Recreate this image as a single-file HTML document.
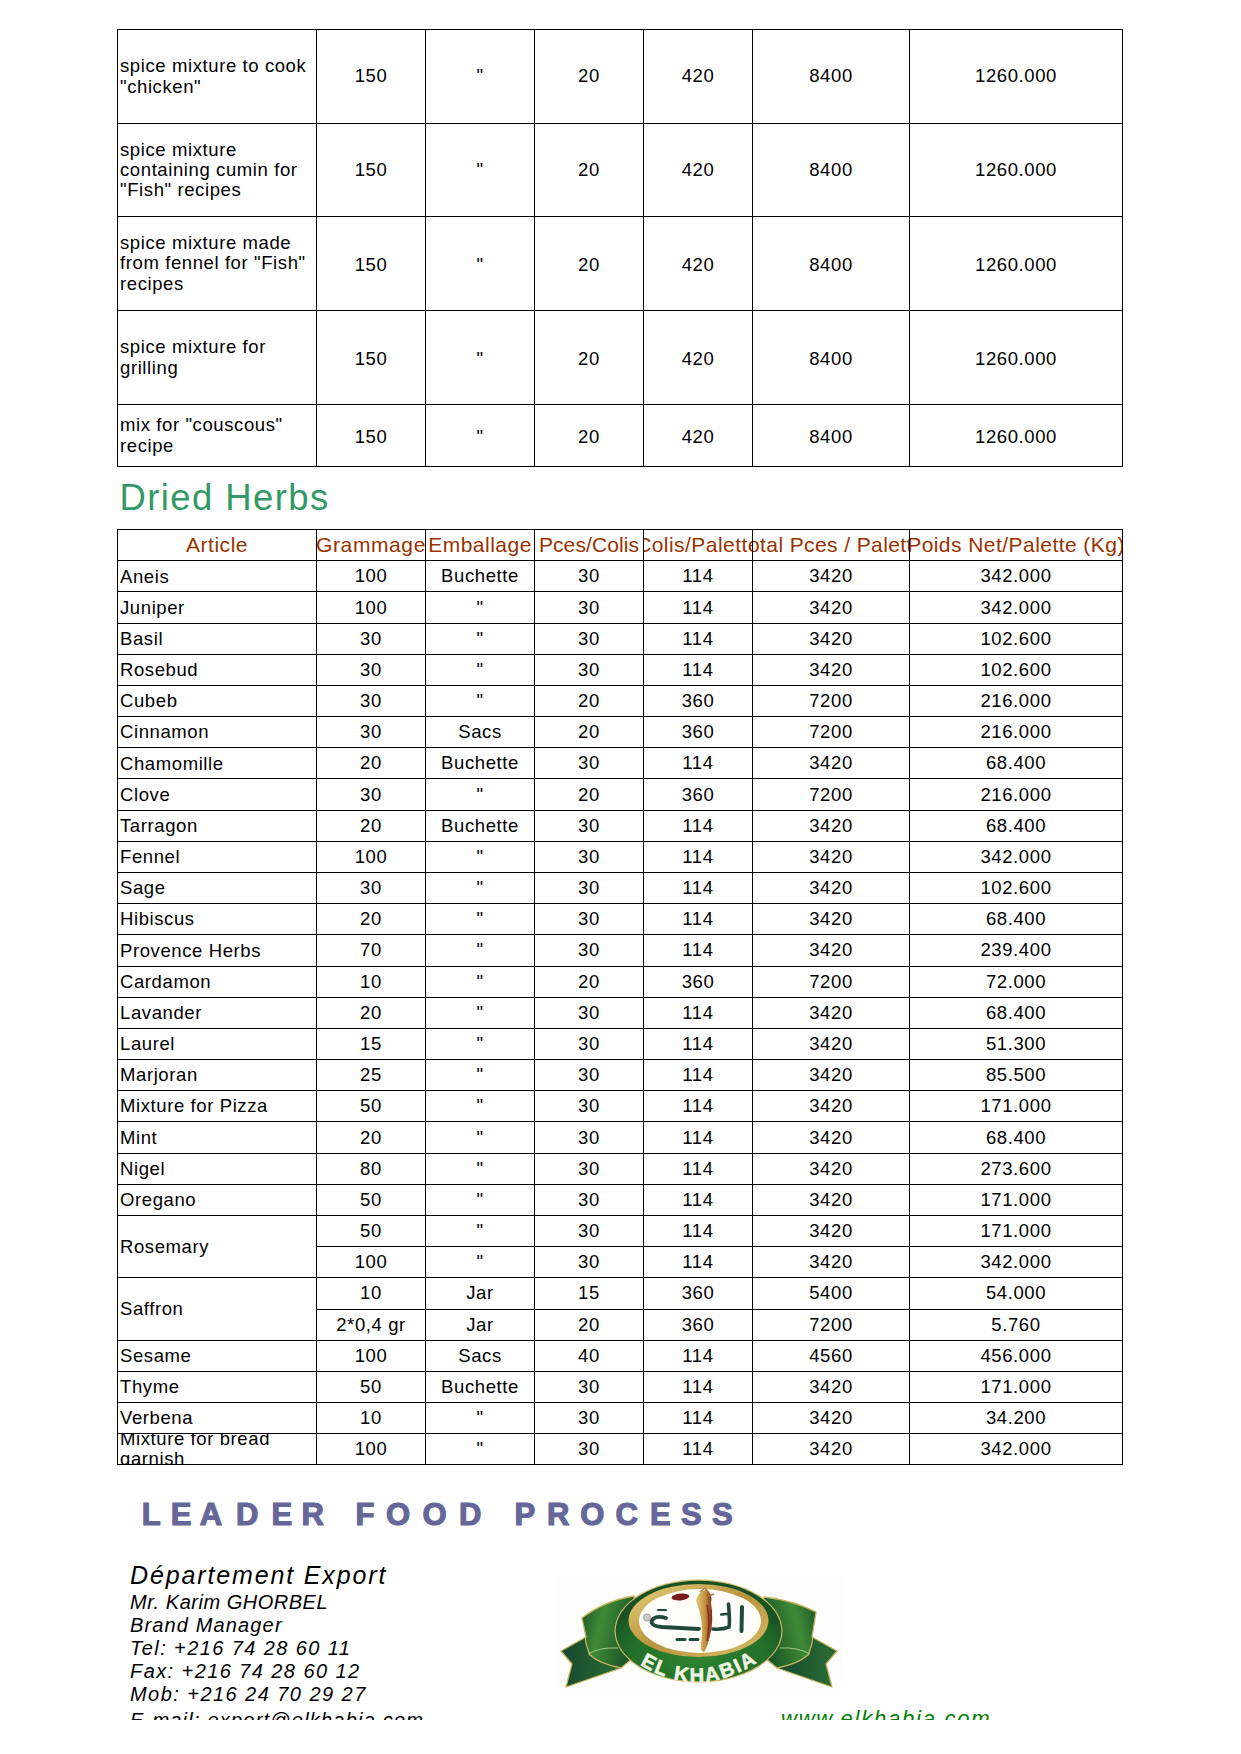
<!DOCTYPE html><html><head><meta charset="utf-8"><style>
*{margin:0;padding:0;box-sizing:border-box}
html,body{width:1241px;height:1754px;background:#fff;overflow:hidden}
body{position:relative;font-family:"Liberation Sans",sans-serif;color:#000}
.h{position:absolute;height:1px;background:#000}
.v{position:absolute;width:1px;background:#000}
.c{position:absolute;display:flex;align-items:center;justify-content:center;overflow:hidden;white-space:nowrap;font-size:18.5px;letter-spacing:0.6px;line-height:1}
.l{justify-content:flex-start;padding-left:2px;letter-spacing:0.6px;white-space:normal;line-height:20.3px}
.hd{color:#993300;font-size:21px;letter-spacing:0.25px}
</style></head><body><div class="c l" style="left:118px;top:30px;width:198px;height:93px">spice mixture to cook<br>"chicken"</div>
<div class="c " style="left:317px;top:30px;width:108px;height:93px">150</div>
<div class="c " style="left:426px;top:30px;width:108px;height:93px">"</div>
<div class="c " style="left:535px;top:30px;width:108px;height:93px">20</div>
<div class="c " style="left:644px;top:30px;width:108px;height:93px">420</div>
<div class="c " style="left:753px;top:30px;width:156px;height:93px">8400</div>
<div class="c " style="left:910px;top:30px;width:212px;height:93px">1260.000</div>
<div class="c l" style="left:118px;top:124px;width:198px;height:92px">spice mixture<br>containing cumin for<br>"Fish" recipes</div>
<div class="c " style="left:317px;top:124.7px;width:108px;height:92px">150</div>
<div class="c " style="left:426px;top:124.7px;width:108px;height:92px">"</div>
<div class="c " style="left:535px;top:124.7px;width:108px;height:92px">20</div>
<div class="c " style="left:644px;top:124.7px;width:108px;height:92px">420</div>
<div class="c " style="left:753px;top:124.7px;width:156px;height:92px">8400</div>
<div class="c " style="left:910px;top:124.7px;width:212px;height:92px">1260.000</div>
<div class="c l" style="left:118px;top:217px;width:198px;height:93px">spice mixture made<br>from fennel for "Fish"<br>recipes</div>
<div class="c " style="left:317px;top:218.7px;width:108px;height:93px">150</div>
<div class="c " style="left:426px;top:218.7px;width:108px;height:93px">"</div>
<div class="c " style="left:535px;top:218.7px;width:108px;height:93px">20</div>
<div class="c " style="left:644px;top:218.7px;width:108px;height:93px">420</div>
<div class="c " style="left:753px;top:218.7px;width:156px;height:93px">8400</div>
<div class="c " style="left:910px;top:218.7px;width:212px;height:93px">1260.000</div>
<div class="c l" style="left:118px;top:311px;width:198px;height:93px">spice mixture for<br>grilling</div>
<div class="c " style="left:317px;top:312.8px;width:108px;height:93px">150</div>
<div class="c " style="left:426px;top:312.8px;width:108px;height:93px">"</div>
<div class="c " style="left:535px;top:312.8px;width:108px;height:93px">20</div>
<div class="c " style="left:644px;top:312.8px;width:108px;height:93px">420</div>
<div class="c " style="left:753px;top:312.8px;width:156px;height:93px">8400</div>
<div class="c " style="left:910px;top:312.8px;width:212px;height:93px">1260.000</div>
<div class="c l" style="left:118px;top:405px;width:198px;height:61px">mix for "couscous"<br>recipe</div>
<div class="c " style="left:317px;top:406.6px;width:108px;height:61px">150</div>
<div class="c " style="left:426px;top:406.6px;width:108px;height:61px">"</div>
<div class="c " style="left:535px;top:406.6px;width:108px;height:61px">20</div>
<div class="c " style="left:644px;top:406.6px;width:108px;height:61px">420</div>
<div class="c " style="left:753px;top:406.6px;width:156px;height:61px">8400</div>
<div class="c " style="left:910px;top:406.6px;width:212px;height:61px">1260.000</div>
<div class="h" style="left:117px;top:29px;width:1006px"></div>
<div class="h" style="left:117px;top:123px;width:1006px"></div>
<div class="h" style="left:117px;top:216px;width:1006px"></div>
<div class="h" style="left:117px;top:310px;width:1006px"></div>
<div class="h" style="left:117px;top:404px;width:1006px"></div>
<div class="h" style="left:117px;top:466px;width:1006px"></div>
<div class="v" style="left:117px;top:29px;height:438px"></div>
<div class="v" style="left:316px;top:29px;height:438px"></div>
<div class="v" style="left:425px;top:29px;height:438px"></div>
<div class="v" style="left:534px;top:29px;height:438px"></div>
<div class="v" style="left:643px;top:29px;height:438px"></div>
<div class="v" style="left:752px;top:29px;height:438px"></div>
<div class="v" style="left:909px;top:29px;height:438px"></div>
<div class="v" style="left:1122px;top:29px;height:438px"></div>
<div style="position:absolute;left:119.5px;top:475.5px;font-size:36.5px;letter-spacing:1.4px;color:#339966;line-height:44px;white-space:nowrap">Dried Herbs</div>
<div class="c hd" style="left:118px;top:529px;width:198px;height:30px"><span style="letter-spacing:0.55px">Article</span></div>
<div class="c hd" style="left:317px;top:529px;width:108px;height:30px"><span style="letter-spacing:0.6px">Grammage</span></div>
<div class="c hd" style="left:426px;top:529px;width:108px;height:30px"><span style="letter-spacing:0.5px">Emballage</span></div>
<div class="c hd" style="left:535px;top:529px;width:108px;height:30px"><span style="letter-spacing:0.1px">Pces/Colis</span></div>
<div class="c hd" style="left:644px;top:529px;width:108px;height:30px"><span style="letter-spacing:0.45px">Colis/Palette</span></div>
<div class="c hd" style="left:753px;top:529px;width:156px;height:30px"><span style="letter-spacing:0.4px">Total Pces / Palette</span></div>
<div class="c hd" style="left:910px;top:529px;width:212px;height:30px"><span style="letter-spacing:0.45px">Poids Net/Palette (Kg)</span></div>
<div class="c l" style="left:118px;top:561.7px;width:198px;height:30px">Aneis</div>
<div class="c " style="left:317px;top:561.7px;width:108px;height:30px">100</div>
<div class="c " style="left:426px;top:561.7px;width:108px;height:30px">Buchette</div>
<div class="c " style="left:535px;top:561.7px;width:108px;height:30px">30</div>
<div class="c " style="left:644px;top:561.7px;width:108px;height:30px">114</div>
<div class="c " style="left:753px;top:561.7px;width:156px;height:30px">3420</div>
<div class="c " style="left:910px;top:561.7px;width:212px;height:30px">342.000</div>
<div class="c l" style="left:118px;top:592.37px;width:198px;height:31px">Juniper</div>
<div class="c " style="left:317px;top:592.37px;width:108px;height:31px">100</div>
<div class="c " style="left:426px;top:592.37px;width:108px;height:31px">"</div>
<div class="c " style="left:535px;top:592.37px;width:108px;height:31px">30</div>
<div class="c " style="left:644px;top:592.37px;width:108px;height:31px">114</div>
<div class="c " style="left:753px;top:592.37px;width:156px;height:31px">3420</div>
<div class="c " style="left:910px;top:592.37px;width:212px;height:31px">342.000</div>
<div class="c l" style="left:118px;top:624.04px;width:198px;height:30px">Basil</div>
<div class="c " style="left:317px;top:624.04px;width:108px;height:30px">30</div>
<div class="c " style="left:426px;top:624.04px;width:108px;height:30px">"</div>
<div class="c " style="left:535px;top:624.04px;width:108px;height:30px">30</div>
<div class="c " style="left:644px;top:624.04px;width:108px;height:30px">114</div>
<div class="c " style="left:753px;top:624.04px;width:156px;height:30px">3420</div>
<div class="c " style="left:910px;top:624.04px;width:212px;height:30px">102.600</div>
<div class="c l" style="left:118px;top:655.21px;width:198px;height:30px">Rosebud</div>
<div class="c " style="left:317px;top:655.21px;width:108px;height:30px">30</div>
<div class="c " style="left:426px;top:655.21px;width:108px;height:30px">"</div>
<div class="c " style="left:535px;top:655.21px;width:108px;height:30px">30</div>
<div class="c " style="left:644px;top:655.21px;width:108px;height:30px">114</div>
<div class="c " style="left:753px;top:655.21px;width:156px;height:30px">3420</div>
<div class="c " style="left:910px;top:655.21px;width:212px;height:30px">102.600</div>
<div class="c l" style="left:118px;top:686.38px;width:198px;height:30px">Cubeb</div>
<div class="c " style="left:317px;top:686.38px;width:108px;height:30px">30</div>
<div class="c " style="left:426px;top:686.38px;width:108px;height:30px">"</div>
<div class="c " style="left:535px;top:686.38px;width:108px;height:30px">20</div>
<div class="c " style="left:644px;top:686.38px;width:108px;height:30px">360</div>
<div class="c " style="left:753px;top:686.38px;width:156px;height:30px">7200</div>
<div class="c " style="left:910px;top:686.38px;width:212px;height:30px">216.000</div>
<div class="c l" style="left:118px;top:717.55px;width:198px;height:30px">Cinnamon</div>
<div class="c " style="left:317px;top:717.55px;width:108px;height:30px">30</div>
<div class="c " style="left:426px;top:717.55px;width:108px;height:30px">Sacs</div>
<div class="c " style="left:535px;top:717.55px;width:108px;height:30px">20</div>
<div class="c " style="left:644px;top:717.55px;width:108px;height:30px">360</div>
<div class="c " style="left:753px;top:717.55px;width:156px;height:30px">7200</div>
<div class="c " style="left:910px;top:717.55px;width:212px;height:30px">216.000</div>
<div class="c l" style="left:118px;top:748.72px;width:198px;height:30px">Chamomille</div>
<div class="c " style="left:317px;top:748.72px;width:108px;height:30px">20</div>
<div class="c " style="left:426px;top:748.72px;width:108px;height:30px">Buchette</div>
<div class="c " style="left:535px;top:748.72px;width:108px;height:30px">30</div>
<div class="c " style="left:644px;top:748.72px;width:108px;height:30px">114</div>
<div class="c " style="left:753px;top:748.72px;width:156px;height:30px">3420</div>
<div class="c " style="left:910px;top:748.72px;width:212px;height:30px">68.400</div>
<div class="c l" style="left:118px;top:779.39px;width:198px;height:31px">Clove</div>
<div class="c " style="left:317px;top:779.39px;width:108px;height:31px">30</div>
<div class="c " style="left:426px;top:779.39px;width:108px;height:31px">"</div>
<div class="c " style="left:535px;top:779.39px;width:108px;height:31px">20</div>
<div class="c " style="left:644px;top:779.39px;width:108px;height:31px">360</div>
<div class="c " style="left:753px;top:779.39px;width:156px;height:31px">7200</div>
<div class="c " style="left:910px;top:779.39px;width:212px;height:31px">216.000</div>
<div class="c l" style="left:118px;top:811.06px;width:198px;height:30px">Tarragon</div>
<div class="c " style="left:317px;top:811.06px;width:108px;height:30px">20</div>
<div class="c " style="left:426px;top:811.06px;width:108px;height:30px">Buchette</div>
<div class="c " style="left:535px;top:811.06px;width:108px;height:30px">30</div>
<div class="c " style="left:644px;top:811.06px;width:108px;height:30px">114</div>
<div class="c " style="left:753px;top:811.06px;width:156px;height:30px">3420</div>
<div class="c " style="left:910px;top:811.06px;width:212px;height:30px">68.400</div>
<div class="c l" style="left:118px;top:842.23px;width:198px;height:30px">Fennel</div>
<div class="c " style="left:317px;top:842.23px;width:108px;height:30px">100</div>
<div class="c " style="left:426px;top:842.23px;width:108px;height:30px">"</div>
<div class="c " style="left:535px;top:842.23px;width:108px;height:30px">30</div>
<div class="c " style="left:644px;top:842.23px;width:108px;height:30px">114</div>
<div class="c " style="left:753px;top:842.23px;width:156px;height:30px">3420</div>
<div class="c " style="left:910px;top:842.23px;width:212px;height:30px">342.000</div>
<div class="c l" style="left:118px;top:873.4px;width:198px;height:30px">Sage</div>
<div class="c " style="left:317px;top:873.4px;width:108px;height:30px">30</div>
<div class="c " style="left:426px;top:873.4px;width:108px;height:30px">"</div>
<div class="c " style="left:535px;top:873.4px;width:108px;height:30px">30</div>
<div class="c " style="left:644px;top:873.4px;width:108px;height:30px">114</div>
<div class="c " style="left:753px;top:873.4px;width:156px;height:30px">3420</div>
<div class="c " style="left:910px;top:873.4px;width:212px;height:30px">102.600</div>
<div class="c l" style="left:118px;top:904.57px;width:198px;height:30px">Hibiscus</div>
<div class="c " style="left:317px;top:904.57px;width:108px;height:30px">20</div>
<div class="c " style="left:426px;top:904.57px;width:108px;height:30px">"</div>
<div class="c " style="left:535px;top:904.57px;width:108px;height:30px">30</div>
<div class="c " style="left:644px;top:904.57px;width:108px;height:30px">114</div>
<div class="c " style="left:753px;top:904.57px;width:156px;height:30px">3420</div>
<div class="c " style="left:910px;top:904.57px;width:212px;height:30px">68.400</div>
<div class="c l" style="left:118px;top:935.24px;width:198px;height:31px">Provence Herbs</div>
<div class="c " style="left:317px;top:935.24px;width:108px;height:31px">70</div>
<div class="c " style="left:426px;top:935.24px;width:108px;height:31px">"</div>
<div class="c " style="left:535px;top:935.24px;width:108px;height:31px">30</div>
<div class="c " style="left:644px;top:935.24px;width:108px;height:31px">114</div>
<div class="c " style="left:753px;top:935.24px;width:156px;height:31px">3420</div>
<div class="c " style="left:910px;top:935.24px;width:212px;height:31px">239.400</div>
<div class="c l" style="left:118px;top:966.91px;width:198px;height:30px">Cardamon</div>
<div class="c " style="left:317px;top:966.91px;width:108px;height:30px">10</div>
<div class="c " style="left:426px;top:966.91px;width:108px;height:30px">"</div>
<div class="c " style="left:535px;top:966.91px;width:108px;height:30px">20</div>
<div class="c " style="left:644px;top:966.91px;width:108px;height:30px">360</div>
<div class="c " style="left:753px;top:966.91px;width:156px;height:30px">7200</div>
<div class="c " style="left:910px;top:966.91px;width:212px;height:30px">72.000</div>
<div class="c l" style="left:118px;top:998.08px;width:198px;height:30px">Lavander</div>
<div class="c " style="left:317px;top:998.08px;width:108px;height:30px">20</div>
<div class="c " style="left:426px;top:998.08px;width:108px;height:30px">"</div>
<div class="c " style="left:535px;top:998.08px;width:108px;height:30px">30</div>
<div class="c " style="left:644px;top:998.08px;width:108px;height:30px">114</div>
<div class="c " style="left:753px;top:998.08px;width:156px;height:30px">3420</div>
<div class="c " style="left:910px;top:998.08px;width:212px;height:30px">68.400</div>
<div class="c l" style="left:118px;top:1029.25px;width:198px;height:30px">Laurel</div>
<div class="c " style="left:317px;top:1029.25px;width:108px;height:30px">15</div>
<div class="c " style="left:426px;top:1029.25px;width:108px;height:30px">"</div>
<div class="c " style="left:535px;top:1029.25px;width:108px;height:30px">30</div>
<div class="c " style="left:644px;top:1029.25px;width:108px;height:30px">114</div>
<div class="c " style="left:753px;top:1029.25px;width:156px;height:30px">3420</div>
<div class="c " style="left:910px;top:1029.25px;width:212px;height:30px">51.300</div>
<div class="c l" style="left:118px;top:1060.42px;width:198px;height:30px">Marjoran</div>
<div class="c " style="left:317px;top:1060.42px;width:108px;height:30px">25</div>
<div class="c " style="left:426px;top:1060.42px;width:108px;height:30px">"</div>
<div class="c " style="left:535px;top:1060.42px;width:108px;height:30px">30</div>
<div class="c " style="left:644px;top:1060.42px;width:108px;height:30px">114</div>
<div class="c " style="left:753px;top:1060.42px;width:156px;height:30px">3420</div>
<div class="c " style="left:910px;top:1060.42px;width:212px;height:30px">85.500</div>
<div class="c l" style="left:118px;top:1091.59px;width:198px;height:30px">Mixture for Pizza</div>
<div class="c " style="left:317px;top:1091.59px;width:108px;height:30px">50</div>
<div class="c " style="left:426px;top:1091.59px;width:108px;height:30px">"</div>
<div class="c " style="left:535px;top:1091.59px;width:108px;height:30px">30</div>
<div class="c " style="left:644px;top:1091.59px;width:108px;height:30px">114</div>
<div class="c " style="left:753px;top:1091.59px;width:156px;height:30px">3420</div>
<div class="c " style="left:910px;top:1091.59px;width:212px;height:30px">171.000</div>
<div class="c l" style="left:118px;top:1122.26px;width:198px;height:31px">Mint</div>
<div class="c " style="left:317px;top:1122.26px;width:108px;height:31px">20</div>
<div class="c " style="left:426px;top:1122.26px;width:108px;height:31px">"</div>
<div class="c " style="left:535px;top:1122.26px;width:108px;height:31px">30</div>
<div class="c " style="left:644px;top:1122.26px;width:108px;height:31px">114</div>
<div class="c " style="left:753px;top:1122.26px;width:156px;height:31px">3420</div>
<div class="c " style="left:910px;top:1122.26px;width:212px;height:31px">68.400</div>
<div class="c l" style="left:118px;top:1153.93px;width:198px;height:30px">Nigel</div>
<div class="c " style="left:317px;top:1153.93px;width:108px;height:30px">80</div>
<div class="c " style="left:426px;top:1153.93px;width:108px;height:30px">"</div>
<div class="c " style="left:535px;top:1153.93px;width:108px;height:30px">30</div>
<div class="c " style="left:644px;top:1153.93px;width:108px;height:30px">114</div>
<div class="c " style="left:753px;top:1153.93px;width:156px;height:30px">3420</div>
<div class="c " style="left:910px;top:1153.93px;width:212px;height:30px">273.600</div>
<div class="c l" style="left:118px;top:1185.1px;width:198px;height:30px">Oregano</div>
<div class="c " style="left:317px;top:1185.1px;width:108px;height:30px">50</div>
<div class="c " style="left:426px;top:1185.1px;width:108px;height:30px">"</div>
<div class="c " style="left:535px;top:1185.1px;width:108px;height:30px">30</div>
<div class="c " style="left:644px;top:1185.1px;width:108px;height:30px">114</div>
<div class="c " style="left:753px;top:1185.1px;width:156px;height:30px">3420</div>
<div class="c " style="left:910px;top:1185.1px;width:212px;height:30px">171.000</div>
<div class="c l" style="left:118px;top:1216.36px;width:198px;height:61px">Rosemary</div>
<div class="c " style="left:317px;top:1216.27px;width:108px;height:30px">50</div>
<div class="c " style="left:426px;top:1216.27px;width:108px;height:30px">"</div>
<div class="c " style="left:535px;top:1216.27px;width:108px;height:30px">30</div>
<div class="c " style="left:644px;top:1216.27px;width:108px;height:30px">114</div>
<div class="c " style="left:753px;top:1216.27px;width:156px;height:30px">3420</div>
<div class="c " style="left:910px;top:1216.27px;width:212px;height:30px">171.000</div>
<div class="c " style="left:317px;top:1247.44px;width:108px;height:30px">100</div>
<div class="c " style="left:426px;top:1247.44px;width:108px;height:30px">"</div>
<div class="c " style="left:535px;top:1247.44px;width:108px;height:30px">30</div>
<div class="c " style="left:644px;top:1247.44px;width:108px;height:30px">114</div>
<div class="c " style="left:753px;top:1247.44px;width:156px;height:30px">3420</div>
<div class="c " style="left:910px;top:1247.44px;width:212px;height:30px">342.000</div>
<div class="c l" style="left:118px;top:1278.2px;width:198px;height:62px">Saffron</div>
<div class="c " style="left:317px;top:1278.11px;width:108px;height:31px">10</div>
<div class="c " style="left:426px;top:1278.11px;width:108px;height:31px">Jar</div>
<div class="c " style="left:535px;top:1278.11px;width:108px;height:31px">15</div>
<div class="c " style="left:644px;top:1278.11px;width:108px;height:31px">360</div>
<div class="c " style="left:753px;top:1278.11px;width:156px;height:31px">5400</div>
<div class="c " style="left:910px;top:1278.11px;width:212px;height:31px">54.000</div>
<div class="c " style="left:317px;top:1309.78px;width:108px;height:30px">2*0,4 gr</div>
<div class="c " style="left:426px;top:1309.78px;width:108px;height:30px">Jar</div>
<div class="c " style="left:535px;top:1309.78px;width:108px;height:30px">20</div>
<div class="c " style="left:644px;top:1309.78px;width:108px;height:30px">360</div>
<div class="c " style="left:753px;top:1309.78px;width:156px;height:30px">7200</div>
<div class="c " style="left:910px;top:1309.78px;width:212px;height:30px">5.760</div>
<div class="c l" style="left:118px;top:1340.95px;width:198px;height:30px">Sesame</div>
<div class="c " style="left:317px;top:1340.95px;width:108px;height:30px">100</div>
<div class="c " style="left:426px;top:1340.95px;width:108px;height:30px">Sacs</div>
<div class="c " style="left:535px;top:1340.95px;width:108px;height:30px">40</div>
<div class="c " style="left:644px;top:1340.95px;width:108px;height:30px">114</div>
<div class="c " style="left:753px;top:1340.95px;width:156px;height:30px">4560</div>
<div class="c " style="left:910px;top:1340.95px;width:212px;height:30px">456.000</div>
<div class="c l" style="left:118px;top:1372.12px;width:198px;height:30px">Thyme</div>
<div class="c " style="left:317px;top:1372.12px;width:108px;height:30px">50</div>
<div class="c " style="left:426px;top:1372.12px;width:108px;height:30px">Buchette</div>
<div class="c " style="left:535px;top:1372.12px;width:108px;height:30px">30</div>
<div class="c " style="left:644px;top:1372.12px;width:108px;height:30px">114</div>
<div class="c " style="left:753px;top:1372.12px;width:156px;height:30px">3420</div>
<div class="c " style="left:910px;top:1372.12px;width:212px;height:30px">171.000</div>
<div class="c l" style="left:118px;top:1403.29px;width:198px;height:30px">Verbena</div>
<div class="c " style="left:317px;top:1403.29px;width:108px;height:30px">10</div>
<div class="c " style="left:426px;top:1403.29px;width:108px;height:30px">"</div>
<div class="c " style="left:535px;top:1403.29px;width:108px;height:30px">30</div>
<div class="c " style="left:644px;top:1403.29px;width:108px;height:30px">114</div>
<div class="c " style="left:753px;top:1403.29px;width:156px;height:30px">3420</div>
<div class="c " style="left:910px;top:1403.29px;width:212px;height:30px">34.200</div>
<div class="c l" style="left:118px;top:1434.46px;width:198px;height:30px">Mixture for bread<br>garnish</div>
<div class="c " style="left:317px;top:1434.46px;width:108px;height:30px">100</div>
<div class="c " style="left:426px;top:1434.46px;width:108px;height:30px">"</div>
<div class="c " style="left:535px;top:1434.46px;width:108px;height:30px">30</div>
<div class="c " style="left:644px;top:1434.46px;width:108px;height:30px">114</div>
<div class="c " style="left:753px;top:1434.46px;width:156px;height:30px">3420</div>
<div class="c " style="left:910px;top:1434.46px;width:212px;height:30px">342.000</div>
<div class="h" style="left:117px;top:529px;width:1006px"></div>
<div class="h" style="left:117px;top:560px;width:1006px"></div>
<div class="h" style="left:117px;top:591px;width:1006px"></div>
<div class="h" style="left:117px;top:623px;width:1006px"></div>
<div class="h" style="left:117px;top:654px;width:1006px"></div>
<div class="h" style="left:117px;top:685px;width:1006px"></div>
<div class="h" style="left:117px;top:716px;width:1006px"></div>
<div class="h" style="left:117px;top:747px;width:1006px"></div>
<div class="h" style="left:117px;top:778px;width:1006px"></div>
<div class="h" style="left:117px;top:810px;width:1006px"></div>
<div class="h" style="left:117px;top:841px;width:1006px"></div>
<div class="h" style="left:117px;top:872px;width:1006px"></div>
<div class="h" style="left:117px;top:903px;width:1006px"></div>
<div class="h" style="left:117px;top:934px;width:1006px"></div>
<div class="h" style="left:117px;top:966px;width:1006px"></div>
<div class="h" style="left:117px;top:997px;width:1006px"></div>
<div class="h" style="left:117px;top:1028px;width:1006px"></div>
<div class="h" style="left:117px;top:1059px;width:1006px"></div>
<div class="h" style="left:117px;top:1090px;width:1006px"></div>
<div class="h" style="left:117px;top:1121px;width:1006px"></div>
<div class="h" style="left:117px;top:1153px;width:1006px"></div>
<div class="h" style="left:117px;top:1184px;width:1006px"></div>
<div class="h" style="left:117px;top:1215px;width:1006px"></div>
<div class="h" style="left:316px;top:1246px;width:807px"></div>
<div class="h" style="left:117px;top:1277px;width:1006px"></div>
<div class="h" style="left:316px;top:1309px;width:807px"></div>
<div class="h" style="left:117px;top:1340px;width:1006px"></div>
<div class="h" style="left:117px;top:1371px;width:1006px"></div>
<div class="h" style="left:117px;top:1402px;width:1006px"></div>
<div class="h" style="left:117px;top:1433px;width:1006px"></div>
<div class="h" style="left:117px;top:1464px;width:1006px"></div>
<div class="v" style="left:117px;top:529px;height:936px"></div>
<div class="v" style="left:316px;top:529px;height:936px"></div>
<div class="v" style="left:425px;top:529px;height:936px"></div>
<div class="v" style="left:534px;top:529px;height:936px"></div>
<div class="v" style="left:643px;top:529px;height:936px"></div>
<div class="v" style="left:752px;top:529px;height:936px"></div>
<div class="v" style="left:909px;top:529px;height:936px"></div>
<div class="v" style="left:1122px;top:529px;height:936px"></div>
<div style="position:absolute;left:141.8px;top:1495px;font-size:31px;font-weight:bold;color:#666699;-webkit-text-stroke:1.2px #666699;line-height:40px">L</div>
<div style="position:absolute;left:170.8px;top:1495px;font-size:31px;font-weight:bold;color:#666699;-webkit-text-stroke:1.2px #666699;line-height:40px">E</div>
<div style="position:absolute;left:199.8px;top:1495px;font-size:31px;font-weight:bold;color:#666699;-webkit-text-stroke:1.2px #666699;line-height:40px">A</div>
<div style="position:absolute;left:236.1px;top:1495px;font-size:31px;font-weight:bold;color:#666699;-webkit-text-stroke:1.2px #666699;line-height:40px">D</div>
<div style="position:absolute;left:271.5px;top:1495px;font-size:31px;font-weight:bold;color:#666699;-webkit-text-stroke:1.2px #666699;line-height:40px">E</div>
<div style="position:absolute;left:301.6px;top:1495px;font-size:31px;font-weight:bold;color:#666699;-webkit-text-stroke:1.2px #666699;line-height:40px">R</div>
<div style="position:absolute;left:355.4px;top:1495px;font-size:31px;font-weight:bold;color:#666699;-webkit-text-stroke:1.2px #666699;line-height:40px">F</div>
<div style="position:absolute;left:386.1px;top:1495px;font-size:31px;font-weight:bold;color:#666699;-webkit-text-stroke:1.2px #666699;line-height:40px">O</div>
<div style="position:absolute;left:422.4px;top:1495px;font-size:31px;font-weight:bold;color:#666699;-webkit-text-stroke:1.2px #666699;line-height:40px">O</div>
<div style="position:absolute;left:458.9px;top:1495px;font-size:31px;font-weight:bold;color:#666699;-webkit-text-stroke:1.2px #666699;line-height:40px">D</div>
<div style="position:absolute;left:514.6px;top:1495px;font-size:31px;font-weight:bold;color:#666699;-webkit-text-stroke:1.2px #666699;line-height:40px">P</div>
<div style="position:absolute;left:547.0px;top:1495px;font-size:31px;font-weight:bold;color:#666699;-webkit-text-stroke:1.2px #666699;line-height:40px">R</div>
<div style="position:absolute;left:580.2px;top:1495px;font-size:31px;font-weight:bold;color:#666699;-webkit-text-stroke:1.2px #666699;line-height:40px">O</div>
<div style="position:absolute;left:615.6px;top:1495px;font-size:31px;font-weight:bold;color:#666699;-webkit-text-stroke:1.2px #666699;line-height:40px">C</div>
<div style="position:absolute;left:650.0px;top:1495px;font-size:31px;font-weight:bold;color:#666699;-webkit-text-stroke:1.2px #666699;line-height:40px">E</div>
<div style="position:absolute;left:681.1px;top:1495px;font-size:31px;font-weight:bold;color:#666699;-webkit-text-stroke:1.2px #666699;line-height:40px">S</div>
<div style="position:absolute;left:712.0px;top:1495px;font-size:31px;font-weight:bold;color:#666699;-webkit-text-stroke:1.2px #666699;line-height:40px">S</div>
<div style="position:absolute;left:0;top:0;width:1241px;height:1720px;overflow:hidden">
<div style="position:absolute;left:130px;top:1558.5px;font-size:25px;font-style:italic;letter-spacing:1.86px;line-height:32px;white-space:nowrap">Département Export</div>
<div style="position:absolute;left:130px;top:1591.7px;font-size:20px;font-style:italic;letter-spacing:0.52px;line-height:20px;white-space:nowrap">Mr. Karim GHORBEL</div>
<div style="position:absolute;left:130px;top:1614.5px;font-size:20px;font-style:italic;letter-spacing:1.14px;line-height:20px;white-space:nowrap">Brand Manager</div>
<div style="position:absolute;left:130px;top:1637.5px;font-size:20px;font-style:italic;letter-spacing:1.4px;line-height:20px;white-space:nowrap">Tel: +216 74 28 60 11</div>
<div style="position:absolute;left:130px;top:1661.3px;font-size:20px;font-style:italic;letter-spacing:1.42px;line-height:20px;white-space:nowrap">Fax: +216 74 28 60 12</div>
<div style="position:absolute;left:130px;top:1684.4px;font-size:20px;font-style:italic;letter-spacing:1.45px;line-height:20px;white-space:nowrap">Mob: +216 24 70 29 27</div>
<div style="position:absolute;left:130px;top:1710.2px;font-size:20px;font-style:italic;letter-spacing:1.21px;line-height:20px;white-space:nowrap">E-mail: export@elkhabia.com</div>
<div style="position:absolute;left:781px;top:1708px;font-size:22px;font-style:italic;letter-spacing:1.76px;line-height:22px;color:#008000;white-space:nowrap">www.elkhabia.com</div>
</div>
<svg style="position:absolute;left:550px;top:1565px" width="300" height="135" viewBox="550 1565 300 135">
<defs>
<linearGradient id="rf" x1="0" y1="0" x2="1" y2="0.3"><stop offset="0" stop-color="#1a5429"/><stop offset="0.4" stop-color="#3f8a36"/><stop offset="1" stop-color="#174f26"/></linearGradient>
<linearGradient id="rfr" x1="1" y1="0" x2="0" y2="0.3"><stop offset="0" stop-color="#1a5429"/><stop offset="0.4" stop-color="#3f8a36"/><stop offset="1" stop-color="#174f26"/></linearGradient>
<linearGradient id="tl" x1="0" y1="0" x2="1" y2="0"><stop offset="0" stop-color="#17472e"/><stop offset="1" stop-color="#2a6e35"/></linearGradient>
<radialGradient id="el" cx="0.5" cy="0.75" r="0.6"><stop offset="0" stop-color="#2f8430"/><stop offset="0.7" stop-color="#236f29"/><stop offset="1" stop-color="#185224"/></radialGradient>
<linearGradient id="gd" x1="0" y1="0" x2="1" y2="1"><stop offset="0" stop-color="#e6d27e"/><stop offset="0.5" stop-color="#b8923a"/><stop offset="1" stop-color="#dcc06a"/></linearGradient>
<linearGradient id="st" x1="0" y1="0" x2="1" y2="0"><stop offset="0" stop-color="#e6c878"/><stop offset="0.55" stop-color="#c49440"/><stop offset="1" stop-color="#7a2a1a"/></linearGradient>
<path id="arc" d="M622,1652 Q699,1714 776,1648"/>
</defs>
<rect x="557" y="1576" width="285" height="114" fill="#fdfdfc"/>
<!-- left ribbon -->
<path d="M561,1651 L586,1637 L590,1655 L621,1668 L566,1687 L572,1664 Z" fill="url(#tl)" stroke="#c8b25c" stroke-width="1.3" stroke-linejoin="round"/>
<path d="M582,1618 Q604,1601 634,1596 L640,1652 L621,1668 Q600,1664 590,1655 Q584,1640 586,1637 Z" fill="url(#rf)" stroke="#c8b25c" stroke-width="1.3" stroke-linejoin="round"/>
<path d="M588,1654 Q600,1647 618,1648" fill="none" stroke="#a9cf90" stroke-width="0.9"/>
<!-- right ribbon -->
<path d="M837,1651 L812,1637 L808,1655 L777,1668 L832,1687 L826,1664 Z" fill="url(#tl)" stroke="#c8b25c" stroke-width="1.3" stroke-linejoin="round"/>
<path d="M816,1612 Q792,1600 764,1597 L758,1652 L777,1668 Q798,1664 808,1655 Q814,1640 812,1637 Z" fill="url(#rfr)" stroke="#c8b25c" stroke-width="1.3" stroke-linejoin="round"/>
<path d="M810,1654 Q798,1647 780,1648" fill="none" stroke="#a9cf90" stroke-width="0.9"/>
<!-- ellipse -->
<ellipse cx="698.5" cy="1631" rx="84" ry="51.5" fill="#cdb868"/>
<ellipse cx="698.5" cy="1631" rx="82.8" ry="50.3" fill="url(#el)"/>
<ellipse cx="698.5" cy="1620.5" rx="70" ry="36.5" fill="url(#gd)"/>
<ellipse cx="700" cy="1621" rx="61" ry="32" fill="#fffef9"/>
<!-- red blob -->
<ellipse cx="680.5" cy="1597" rx="9" ry="3.4" fill="#7a1c1c" transform="rotate(-6 680.5 1597)"/>
<!-- golden stick -->
<path d="M696,1600 Q700,1589 707,1590 Q713,1594 711,1603 Q714,1620 710,1636 Q707,1648 704,1652 Q700,1651 701,1644 Q704,1625 699,1610 Z" fill="url(#st)"/>
<path d="M707,1605 Q711,1622 707,1641" fill="none" stroke="#8c2a1c" stroke-width="1.6"/><path d="M700,1592 L705,1588 L708,1592 M709,1596 L714,1594" fill="none" stroke="#b07a3a" stroke-width="1.4"/>
<!-- arabic strokes -->
<g fill="none" stroke="#1f4a38" stroke-linecap="round">
<path d="M742,1607 L741.5,1631" stroke-width="4"/>
<path d="M728.5,1604 Q730,1622 729,1627 Q722,1630 713,1629" stroke-width="3.6"/>
<path d="M721,1614.5 L727,1614" stroke-width="2.4"/>
<path d="M699,1629 Q680,1628 662,1627 Q650,1626 652,1620 Q656,1615 666,1618" stroke-width="3.8"/>
<path d="M658,1610 L666,1610" stroke-width="2.2"/>
<path d="M677,1639.5 L685,1639.5 M690,1639.5 L698,1639.5" stroke-width="3"/>
</g>
<circle cx="647" cy="1617.5" r="3.6" fill="#c9c9c9" stroke="#9a9a9a" stroke-width="0.8"/>
<!-- EL KHABIA -->
<text font-family="Liberation Sans" font-weight="bold" font-size="20" fill="#eef4e2" stroke="#eef4e2" stroke-width="0.6" letter-spacing="2"><textPath href="#arc" startOffset="50%" text-anchor="middle">EL KHABIA</textPath></text>
</svg>
</body></html>
